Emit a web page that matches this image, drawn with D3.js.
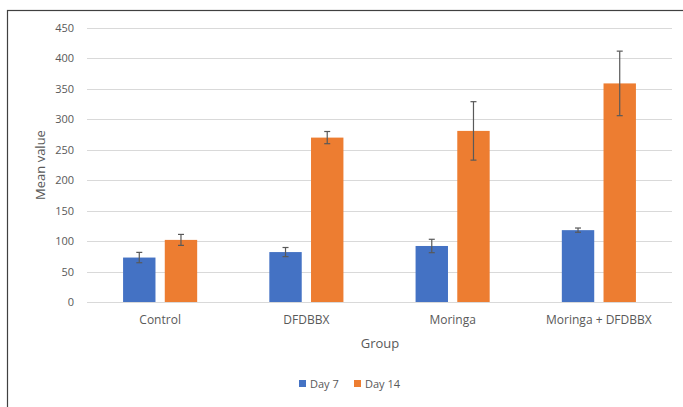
<!DOCTYPE html>
<html>
<head>
<meta charset="utf-8">
<script src="https://cdn.jsdelivr.net/npm/d3@7"></script>
<style>
  body { margin: 0; background: #fff; }
  text { font-family: "Open Sans", "Noto Sans", sans-serif; fill: #595959; }
</style>
</head>
<body>
<svg id="chart"></svg>
<script>
const width = 683;
const height = 407;

const groups = ["Control", "DFDBBX", "Moringa", "Moringa + DFDBBX"];
const seriesNames = ["Day 7", "Day 14"];
const day7 = [73, 82, 92, 118];
const day14 = [102, 270, 281, 359];
const day7Err = [8.5, 7.5, 11, 3.5];
const day14Err = [9, 10, 48, 53];
const yTicks = [0, 50, 100, 150, 200, 250, 300, 350, 400, 450];

const colors = ["#4472C4", "#ED7D31"];
const margin = { top: 28, right: 11, bottom: 105, left: 87 };

const svg = d3.select("#chart")
    .attr("width", width)
    .attr("height", height);

// Outer frame
svg.append("rect")
    .attr("x", 7.5)
    .attr("y", 10.5)
    .attr("width", 700)
    .attr("height", 420)
    .attr("fill", "none")
    .attr("stroke", "#404040")
    .attr("stroke-width", 1.2);

const x = d3.scaleBand()
    .domain(groups)
    .range([margin.left, width - margin.right]);

const xInner = d3.scaleBand()
    .domain(seriesNames)
    .range([0, x.bandwidth()])
    .paddingInner(0.223)
    .paddingOuter(0.865);

const y = d3.scaleLinear()
    .domain([0, 450])
    .range([302, 28]);

// Gridlines
svg.append("g")
    .selectAll("line")
    .data(yTicks)
    .enter()
    .append("line")
    .attr("x1", margin.left)
    .attr("x2", width - margin.right)
    .attr("y1", d => Math.round(y(d)) + 0.5)
    .attr("y2", d => Math.round(y(d)) + 0.5)
    .attr("stroke", "#d9d9d9")
    .attr("stroke-width", 1);

// Y axis labels
const yAxis = svg.append("g")
    .attr("transform", `translate(${margin.left}, 0)`)
    .call(d3.axisLeft(y).tickValues(yTicks).tickSize(0).tickPadding(13));
yAxis.select(".domain").remove();
yAxis.selectAll("text")
    .attr("font-size", 11)
    .attr("fill", "#595959")
    .style("font-family", "'Open Sans', sans-serif");

// X axis labels
const xAxis = svg.append("g")
    .attr("transform", `translate(0, ${y(0)})`)
    .call(d3.axisBottom(x).tickSize(0).tickPadding(13));
xAxis.select(".domain").remove();
xAxis.selectAll("text")
    .attr("font-size", 12)
    .attr("fill", "#595959")
    .style("font-family", "'Open Sans', sans-serif");

// Bars
const rows = groups.map((g, i) => ({
    group: g,
    values: [
        { series: seriesNames[0], value: day7[i], err: day7Err[i] },
        { series: seriesNames[1], value: day14[i], err: day14Err[i] }
    ]
}));

const groupSel = svg.selectAll(".group")
    .data(rows)
    .enter()
    .append("g")
    .attr("class", "group")
    .attr("transform", d => `translate(${x(d.group)}, 0)`);

groupSel.selectAll("rect")
    .data(d => d.values)
    .enter()
    .append("rect")
    .attr("x", d => xInner(d.series))
    .attr("y", d => y(d.value))
    .attr("width", xInner.bandwidth())
    .attr("height", d => y(0) - y(d.value))
    .attr("fill", (d, i) => colors[i]);

// Error bars
const errSel = groupSel.selectAll(".err")
    .data(d => d.values)
    .enter()
    .append("g")
    .attr("class", "err")
    .attr("stroke", "#595959")
    .attr("stroke-width", 1.2);

const cx = d => xInner(d.series) + xInner.bandwidth() / 2;

errSel.append("line")
    .attr("x1", cx).attr("x2", cx)
    .attr("y1", d => y(d.value + d.err))
    .attr("y2", d => y(d.value - d.err));
errSel.append("line")
    .attr("x1", d => cx(d) - 3).attr("x2", d => cx(d) + 3)
    .attr("y1", d => y(d.value + d.err))
    .attr("y2", d => y(d.value + d.err));
errSel.append("line")
    .attr("x1", d => cx(d) - 3).attr("x2", d => cx(d) + 3)
    .attr("y1", d => y(d.value - d.err))
    .attr("y2", d => y(d.value - d.err));

// Axis titles
svg.append("text")
    .attr("x", 380)
    .attr("y", 348)
    .attr("text-anchor", "middle")
    .attr("font-size", 13)
    .text("Group");

svg.append("text")
    .attr("transform", "translate(45, 165) rotate(-90)")
    .attr("text-anchor", "middle")
    .attr("font-size", 13)
    .text("Mean value");

// Legend
const legend = svg.append("g")
    .attr("transform", "translate(299, 384)");

const legendItems = legend.selectAll("g")
    .data(seriesNames)
    .enter()
    .append("g")
    .attr("transform", (d, i) => `translate(${i === 0 ? 0 : 55}, 0)`);

legendItems.append("rect")
    .attr("x", 0)
    .attr("y", -4)
    .attr("width", 7)
    .attr("height", 7)
    .attr("fill", (d, i) => colors[i]);

legendItems.append("text")
    .attr("x", 11)
    .attr("y", 4)
    .attr("font-size", 11)
    .text(d => d);
</script>
</body>
</html>
